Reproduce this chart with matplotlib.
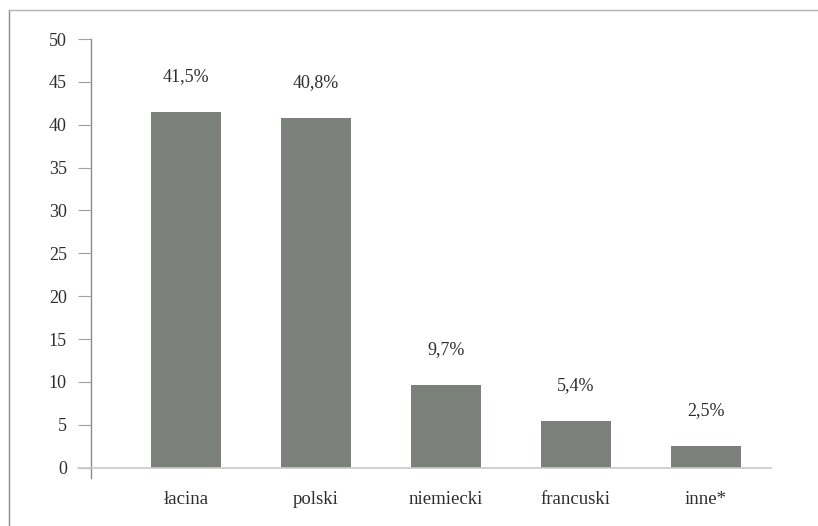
import matplotlib.pyplot as plt
from matplotlib.lines import Line2D

# Udział języków (w %)
categories = ['łacina', 'polski', 'niemiecki', 'francuski', 'inne*']
values = [41.5, 40.8, 9.7, 5.4, 2.5]
labels = ['41,5%', '40,8%', '9,7%', '5,4%', '2,5%']
yticks = [0, 5, 10, 15, 20, 25, 30, 35, 40, 45, 50]

plt.rcParams['font.family'] = ['Liberation Serif', 'DejaVu Serif']
text_color = '#2e2e2e'
axis_color = '#a0a0a0'

W, H = 818, 526
fig = plt.figure(figsize=(W / 100, H / 100), dpi=100)
ax = fig.add_axes([91 / W, (H - 478) / H, (771 - 91) / W, (478 - 39) / H])

x = range(len(categories))
ax.bar(x, values, width=0.54, color='#7c807b', zorder=2)

# value labels above the bars
for xi, v, lab in zip(x, values, labels):
    ax.annotate(lab, (xi, v), xytext=(0, 25.5), textcoords='offset points',
                ha='center', va='center', fontsize=13, color=text_color)

ax.set_xlim(-0.73, 4.5)
ax.set_ylim(-1.2, 50)
ax.set_yticks(yticks)
ax.set_xticks(list(x))
ax.set_xticklabels(categories)

for s in ['top', 'right', 'bottom']:
    ax.spines[s].set_visible(False)
ax.spines['left'].set_color('#8c8c8c')
ax.spines['left'].set_linewidth(1)

ax.tick_params(axis='y', length=9.4, width=0.8, color=axis_color, pad=8,
               labelsize=13, labelcolor=text_color)
ax.tick_params(axis='x', length=0, pad=9, labelsize=13.5, labelcolor=text_color)

# x axis line at zero, starting at the tick marks on the left
ax.axhline(0, xmin=-13 / 680, xmax=1.0, color='#c8c8c8', lw=1.2, clip_on=False, zorder=3)

# frame around the chart (top and left edges visible)
fig.add_artist(Line2D([9 / W, 9 / W], [0, 1 - 10 / H], color='#8a8a8a', lw=1))
fig.add_artist(Line2D([9 / W, 1], [1 - 10 / H, 1 - 10 / H], color='#b5b5b5', lw=1))

fig.savefig('out.png', dpi=100)
